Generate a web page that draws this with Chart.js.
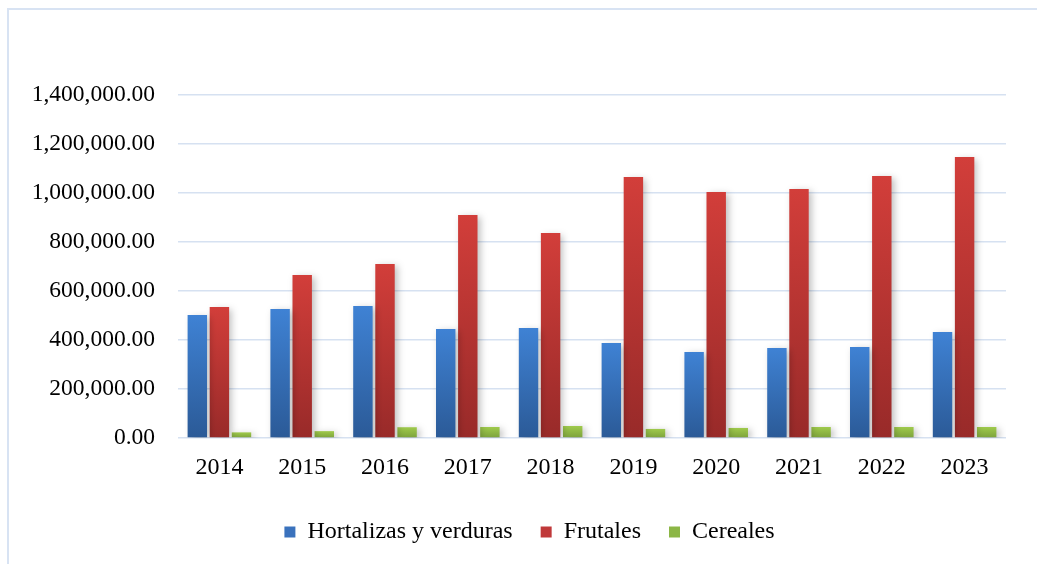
<!DOCTYPE html>
<html>
<head>
<meta charset="utf-8">
<script src="https://cdn.jsdelivr.net/npm/chart.js@4.4.1/dist/chart.umd.min.js"></script>
<style>
  html, body { margin: 0; padding: 0; background: #fff; overflow: hidden; }
  #wrap { position: relative; width: 1037px; height: 564px; overflow: hidden; }
  #frame { position: absolute; left: 7px; top: 8px; width: 1100px; height: 600px;
           border-left: 2px solid #d8e3f3; border-top: 2px solid #d8e3f3; }
  #chart { position: absolute; left: 0; top: 0; }
</style>
</head>
<body>
<div id="wrap">
  <div id="frame"></div>
  <canvas id="chart" width="1059" height="564"></canvas>
</div>
<script>
// data
const years = ['2014', '2015', '2016', '2017', '2018', '2019', '2020', '2021', '2022', '2023'];
const hortalizas = [502000, 527000, 539000, 445000, 449000, 388000, 351000, 367000, 371000, 433000];
const frutales = [535000, 665000, 710000, 910000, 837000, 1065000, 1004000, 1016000, 1069000, 1147000];
const cereales = [23000, 28000, 44000, 45000, 49000, 37000, 41000, 45000, 45000, 45000];
const seriesNames = ['Hortalizas y verduras', 'Frutales', 'Cereales'];
const yTicks = [0, 200000, 400000, 600000, 800000, 1000000, 1200000, 1400000];

const FONT = '"Liberation Serif", "Times New Roman", serif';

// top / bottom colours for each bar's gradient, plus a flat colour for the legend
const palette = [
    { top: '#3f82d4', bottom: '#2b5a97', flat: '#3a72bd' },
    { top: '#d23e3a', bottom: '#982a29', flat: '#c0393a' },
    { top: '#9fca4c', bottom: '#7ca23b', flat: '#8cb646' }
];

function barGradient(i) {
    return (ctx) => {
        const chart = ctx.chart;
        const y = chart.scales.y;
        if (!chart.chartArea || !y || ctx.raw === undefined) return palette[i].flat;
        const top = y.getPixelForValue(ctx.raw);
        const bottom = y.getPixelForValue(0);
        if (!isFinite(top) || bottom - top < 1) return palette[i].flat;
        const g = chart.ctx.createLinearGradient(0, top, 0, bottom);
        g.addColorStop(0, palette[i].top);
        g.addColorStop(1, palette[i].bottom);
        return g;
    };
}

function fmt(v) {
    return v.toLocaleString('en-US', { minimumFractionDigits: 2, maximumFractionDigits: 2 });
}

// soft drop shadow behind the bars, like the office chart
const barShadow = {
    id: 'barShadow',
    beforeDatasetsDraw(chart) {
        const c = chart.ctx;
        c.save();
        c.shadowColor = 'rgba(0,0,0,0.25)';
        c.shadowBlur = 7;
        c.shadowOffsetX = 3;
        c.shadowOffsetY = 2;
    },
    afterDatasetsDraw(chart) {
        chart.ctx.restore();
    }
};

const datasets = [hortalizas, frutales, cereales].map((vals, i) => ({
    label: seriesNames[i],
    data: vals,
    yAxisID: 'y',
    backgroundColor: barGradient(i),
    borderWidth: 0,
    categoryPercentage: 0.8,
    barPercentage: 0.88
}));

new Chart(document.getElementById('chart').getContext('2d'), {
    type: 'bar',
    data: { labels: years, datasets: datasets },
    plugins: [barShadow],
    options: {
        responsive: false,
        animation: false,
        devicePixelRatio: 1,
        layout: { padding: { top: 95, left: 0, right: 0, bottom: 10 } },
        plugins: {
            tooltip: { enabled: false },
            legend: {
                position: 'bottom',
                labels: {
                    font: { family: FONT, size: 24 },
                    color: '#000',
                    boxWidth: 11,
                    boxHeight: 11,
                    padding: 28,
                    generateLabels: (chart) => chart.data.datasets.map((ds, i) => ({
                        text: ds.label,
                        fillStyle: palette[i].flat,
                        strokeStyle: palette[i].flat,
                        lineWidth: 0,
                        datasetIndex: i
                    }))
                }
            }
        },
        scales: {
            x: {
                grid: { display: false },
                border: { display: false },
                ticks: { font: { family: FONT, size: 24 }, color: '#000', padding: 7 },
                afterFit: (s) => { s.height = 54; }
            },
            y: {
                min: 0,
                max: 1400000,
                afterBuildTicks: (s) => { s.ticks = yTicks.map(v => ({ value: v })); },
                grid: { color: '#d6e1f1', lineWidth: 1.6, drawTicks: false },
                border: { display: false },
                ticks: {
                    font: { family: FONT, size: 23.5 },
                    color: '#000',
                    padding: 23,
                    callback: (v) => fmt(v)
                },
                afterFit: (s) => { s.width = 178; }
            },
            // empty spacer on the right so the plot ends where the reference does
            spacer: {
                type: 'linear',
                position: 'right',
                display: true,
                grid: { display: false },
                border: { display: false },
                ticks: { display: false },
                afterFit: (s) => { s.width = 53; }
            }
        }
    }
});
</script>
</body>
</html>
